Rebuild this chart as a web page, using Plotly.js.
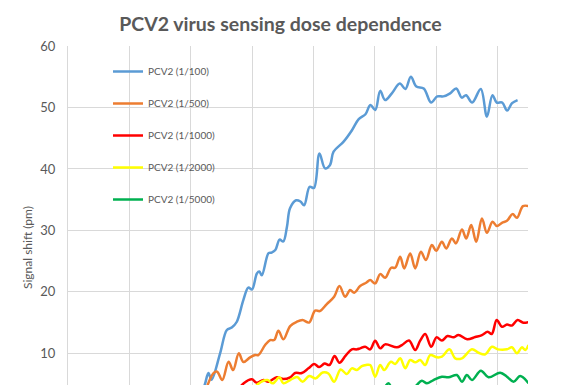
<!DOCTYPE html>
<html>
<head>
<meta charset="utf-8">
<script src="https://cdn.plot.ly/plotly-3.0.1.min.js"></script>
<style>html,body{margin:0;padding:0;background:#fff;overflow:hidden}#chart{width:561px;height:385px}</style>
</head>
<body>
<div id="chart"></div>
<script>
const seriesNames = ["PCV2 (1/100)", "PCV2 (1/500)", "PCV2 (1/1000)", "PCV2 (1/2000)", "PCV2 (1/5000)"];
const seriesColors = ["#5B9BD5", "#ED7D31", "#FF0000", "#FFFF00", "#00B050"];

const x100 = [21.0, 22.3, 22.9, 23.4, 24.8, 25.9, 26.7, 27.5, 28.6, 29.4, 30.0, 30.8, 31.2, 31.6, 32.7, 33.2, 33.8, 34.5, 35.1, 35.7, 36.2, 37.2, 37.9, 38.5, 39.4, 40.1, 41.0, 41.9, 42.7, 43.3, 44.9, 46.3, 47.4, 48.5, 49.3, 50.1, 50.9, 51.7, 52.8, 54.1, 55.0, 55.9, 56.8, 58.0, 59.2, 60.2, 61.2, 62.3, 63.3, 64.2, 64.9, 65.9, 67.3, 68.3, 69.2, 69.9, 70.8, 71.6, 72.4, 73.3];
const y100 = [1.5, 4.9, 6.8, 5.7, 10.0, 13.8, 14.2, 15.1, 18.7, 20.7, 20.4, 23.0, 23.3, 22.7, 26.3, 26.4, 26.8, 28.5, 28.2, 30.6, 33.6, 34.9, 34.7, 34.1, 37.1, 36.9, 42.5, 40.1, 40.6, 42.8, 44.4, 46.3, 48.1, 48.9, 50.4, 49.6, 52.7, 51.2, 52.3, 53.9, 53.0, 55.0, 53.4, 53.1, 50.8, 51.8, 51.8, 52.3, 53.1, 51.6, 52.0, 50.8, 53.0, 48.5, 52.0, 50.8, 50.8, 49.5, 50.7, 51.2];

const x500 = [22.35, 23.7, 24.31, 25.15, 26.18, 26.92, 27.85, 28.6, 29.69, 30.51, 31.04, 32.14, 32.95, 33.61, 34.31, 35.12, 36.22, 37.31, 38.25, 39.31, 40.29, 41.06, 42.2, 43.39, 44.26, 45.19, 46.0, 46.66, 47.63, 48.61, 49.27, 50.08, 50.9, 51.71, 52.69, 53.34, 54.16, 54.81, 55.79, 56.61, 57.54, 58.35, 59.33, 60.03, 60.96, 61.66, 62.59, 63.25, 64.23, 64.93, 65.74, 66.56, 67.49, 68.3, 69.22, 69.93, 70.75, 71.57, 72.48, 73.2, 74.18, 75.09];
const y500 = [3.7, 6.75, 7.01, 5.66, 8.63, 7.28, 10.0, 8.59, 9.35, 9.72, 9.72, 11.35, 12.16, 12.16, 13.67, 12.28, 14.44, 15.14, 15.41, 15.01, 16.96, 16.88, 18.02, 19.2, 20.94, 19.2, 20.29, 19.85, 20.94, 21.48, 21.92, 21.38, 22.89, 22.29, 23.92, 23.92, 25.71, 23.82, 26.26, 23.82, 26.52, 25.17, 27.61, 26.68, 28.15, 27.07, 28.7, 27.89, 30.16, 28.7, 30.86, 28.15, 31.95, 29.61, 31.4, 30.7, 31.24, 31.56, 32.65, 32.05, 33.95, 33.95];

const x1000 = [27.41, 28.71, 29.97, 30.78, 31.86, 32.68, 34.05, 35.12, 36.22, 37.03, 38.12, 39.2, 40.13, 40.95, 41.84, 42.63, 43.47, 44.26, 45.27, 46.28, 47.1, 47.63, 48.45, 49.27, 50.08, 50.9, 51.71, 53.62, 54.44, 55.6, 56.61, 57.42, 58.24, 59.22, 60.08, 60.96, 61.88, 62.85, 63.67, 65.09, 66.39, 67.49, 68.43, 69.09, 69.9, 70.75, 71.57, 72.38, 73.3, 74.23, 75.09];
const y1000 = [3.7, 5.17, 5.77, 5.22, 5.66, 5.38, 6.1, 5.82, 6.1, 6.8, 6.8, 7.56, 8.26, 7.77, 8.34, 8.1, 9.56, 8.47, 9.64, 10.65, 10.65, 10.81, 11.07, 10.65, 12.05, 10.81, 11.46, 10.98, 11.35, 12.08, 10.54, 12.08, 13.14, 11.07, 12.6, 12.08, 12.81, 12.6, 12.98, 12.28, 12.65, 12.98, 13.51, 13.14, 15.41, 14.33, 14.68, 14.52, 15.41, 14.98, 15.09];

const x2000 = [30.02, 30.99, 32.51, 33.39, 34.47, 35.12, 36.22, 37.36, 38.25, 39.31, 40.38, 41.52, 42.46, 43.39, 44.45, 45.46, 46.28, 47.1, 47.91, 48.61, 49.27, 50.08, 50.9, 51.55, 52.64, 53.34, 54.16, 54.98, 55.79, 56.61, 57.42, 58.24, 59.05, 60.15, 60.96, 62.2, 63.13, 64.23, 65.86, 66.93, 68.03, 69.12, 70.1, 71.57, 72.38, 73.2, 74.02, 74.55, 75.09];
const y2000 = [3.7, 5.0, 5.66, 5.12, 6.1, 5.12, 5.66, 6.15, 5.38, 6.31, 5.93, 6.88, 6.72, 5.38, 7.37, 6.63, 7.56, 7.28, 7.93, 8.1, 8.1, 6.2, 8.1, 7.28, 8.63, 8.26, 9.19, 7.56, 8.91, 8.54, 8.91, 8.1, 9.72, 9.35, 9.45, 10.65, 9.19, 9.19, 10.65, 10.1, 9.84, 11.07, 10.65, 10.65, 10.98, 10.0, 10.98, 10.54, 11.35];

const x5000 = [51.22, 52.25, 53.18, 55.79, 56.88, 57.7, 58.52, 59.59, 60.96, 62.04, 63.41, 64.23, 65.04, 65.86, 67.32, 68.56, 70.47, 71.57, 72.64, 73.74, 75.09];
const y5000 = [3.7, 5.12, 3.7, 3.7, 4.85, 5.54, 5.12, 5.66, 6.2, 6.1, 6.47, 5.38, 6.47, 5.66, 7.17, 6.1, 6.85, 6.2, 5.38, 6.31, 5.12];

const xs = [x100, x500, x1000, x2000, x5000];
const ys = [y100, y500, y1000, y2000, y5000];

const traces = seriesNames.map((n, i) => ({
  type: 'scatter', mode: 'lines', name: n, x: xs[i], y: ys[i],
  legendgroup: 'g' + i,
  line: {color: seriesColors[i], width: 2.5, shape: 'spline', smoothing: 1}
}));

const grey = '#595959';
const layout = {
  width: 561, height: 385,
  margin: {l: 68, r: 33, t: 46, b: 0, pad: 0},
  paper_bgcolor: '#ffffff', plot_bgcolor: '#ffffff',
  font: {family: 'Lato, "Open Sans", sans-serif', color: grey},
  title: {text: '<b>PCV2 virus sensing dose dependence</b>', x: 0.5, xref: 'container', xanchor: 'center',
          y: 1 - 24 / 385, yref: 'container', yanchor: 'middle',
          font: {family: 'Lato, "Open Sans", sans-serif', size: 19.5, color: grey}},
  xaxis: {range: [0, 75], tick0: 0, dtick: 10, showgrid: true, gridcolor: '#d9d9d9', gridwidth: 1,
          showticklabels: false, zeroline: false, showline: false, ticks: ''},
  yaxis: {range: [4.85, 60], tick0: 0, dtick: 10, showgrid: true, gridcolor: '#d9d9d9', gridwidth: 1,
          zeroline: false, showline: true, linecolor: '#d9d9d9', linewidth: 1, ticks: '',
          ticklabelstandoff: 9, tickfont: {size: 13, color: grey, family: 'Lato, "Open Sans", sans-serif'}},
  showlegend: true,
  legend: {x: 40 / 460, xanchor: 'left', y: (385 - 57) / 339, yanchor: 'top', bgcolor: 'rgba(0,0,0,0)',
           traceorder: 'grouped', tracegroupgap: 13, font: {size: 10, color: grey, family: 'Lato, "Open Sans", sans-serif'}},
  annotations: [{text: 'Signal shift (pm)', xref: 'paper', yref: 'paper', x: (27 - 68) / 460, y: (385 - 248) / 339,
                 xanchor: 'center', yanchor: 'middle', textangle: -90, showarrow: false,
                 font: {size: 12, color: grey, family: 'Lato, "Open Sans", sans-serif'}}]
};

Plotly.newPlot('chart', traces, layout, {displayModeBar: false, staticPlot: true});
</script>
</body>
</html>
